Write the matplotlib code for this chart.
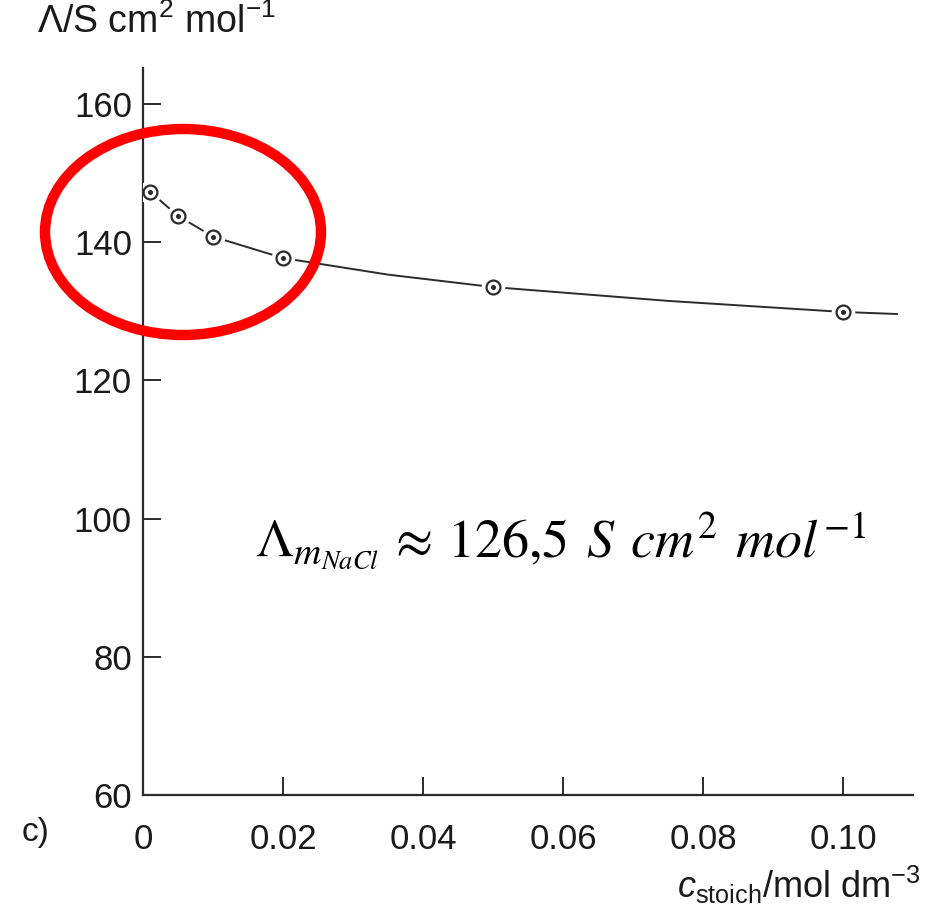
import matplotlib
matplotlib.use("Agg")
import matplotlib.pyplot as plt
from matplotlib.patches import Ellipse
from matplotlib import font_manager

# Data
conc = [0.001, 0.005, 0.010, 0.020, 0.050, 0.100]
molar_cond = [147.3, 143.8, 140.8, 137.7, 133.5, 129.9]
curve_x = [0.001, 0.005, 0.010, 0.020, 0.035, 0.050, 0.075, 0.100, 0.1077]
curve_y = [147.3, 143.8, 140.8, 137.7, 135.3, 133.5, 131.5, 129.9, 129.6]
xticks = [0, 0.02, 0.04, 0.06, 0.08, 0.10]
xticklabels = ["0", "0.02", "0.04", "0.06", "0.08", "0.10"]
yticks = [60, 80, 100, 120, 140, 160]

names = {f.name for f in font_manager.fontManager.ttflist}
narrow = "Liberation Sans Narrow" if "Liberation Sans Narrow" in names else "Liberation Sans"

plt.rcParams['font.family'] = ['Liberation Sans', 'DejaVu Sans']
plt.rcParams['mathtext.fontset'] = 'custom'
plt.rcParams['mathtext.rm'] = 'Liberation Sans'
plt.rcParams['mathtext.it'] = 'Liberation Sans:italic'

fig = plt.figure(figsize=(9.48, 9.10), dpi=100)
ax = fig.add_axes([143/948, 115/910, (913-143)/948, (842-115)/910])
ax.set_xlim(0, 0.11)
ax.set_ylim(60, 165.2)

dark = "#2b2b2b"
ax.plot(curve_x, curve_y, color=dark, lw=1.4, zorder=2)
ax.plot(conc, molar_cond, ls="none", marker="o", ms=16, mfc="white", mec="white", zorder=3)
ax.plot(conc, molar_cond, ls="none", marker="o", ms=10, mfc="white", mec=dark, mew=1.6, zorder=4)
ax.plot(conc, molar_cond, ls="none", marker="o", ms=2.6, mfc=dark, mec=dark, zorder=5)

for s in ["top", "right"]:
    ax.spines[s].set_visible(False)
for s in ["left", "bottom"]:
    ax.spines[s].set_linewidth(1.6)
    ax.spines[s].set_color(dark)

ax.set_xticks(xticks)
ax.set_xticklabels(xticklabels)
ax.set_yticks(yticks)
ax.tick_params(direction="in", length=13, width=1.4, color=dark)
ax.tick_params(axis="x", pad=20)
ax.tick_params(axis="y", pad=8)
for lab in ax.get_xticklabels() + ax.get_yticklabels():
    lab.set_fontfamily(narrow)
    lab.set_fontsize(25)
    lab.set_color("#1a1a1a")

fig.text(37/948, 1 - 22/910, "\u039b/S cm$^{2}$ mol$^{\u22121}$",
         fontsize=27, ha="left", va="center", color="#1a1a1a")
fig.text(22/948, 1 - 833/910, "c)", fontsize=24, ha="left", va="center",
         family=narrow, color="#1a1a1a")
fig.text(921/948, 1 - 885/910, r"$c_{\mathrm{stoich}}$/mol dm$^{\mathrm{-3}}$",
         fontsize=26, ha="right", va="center", family=narrow, color="#1a1a1a")

fig.text(255/948, 1 - 542/910,
         r"$\Lambda_{m_{NaCl}}\,\approx\,126{,}5\;\,S\;\,cm^{2}\;\,mol^{-1}$",
         fontsize=39, ha="left", va="center", math_fontfamily="stix", color="black")

ell = Ellipse((183/948, 1 - 232/910), 276/948, 206/910, transform=fig.transFigure,
              fill=False, edgecolor="#ff0000", lw=7.5, zorder=10, clip_on=False)
fig.patches.append(ell)

fig.savefig("out.png", dpi=100)
